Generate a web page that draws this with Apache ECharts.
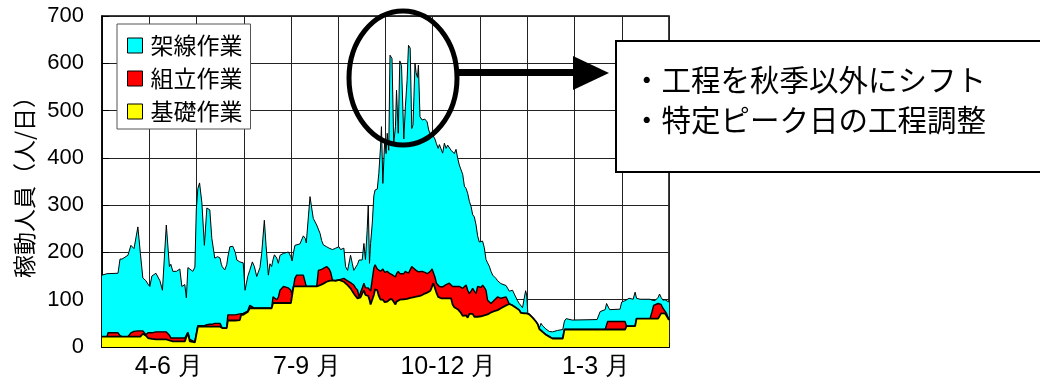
<!DOCTYPE html>
<html>
<head>
<meta charset="utf-8">
<script src="https://cdn.jsdelivr.net/npm/echarts@6/dist/echarts.min.js"></script>
<style>
html,body{margin:0;padding:0;background:#fff;}
#chart{width:1040px;height:385px;}
</style>
</head>
<body>
<div id="chart"></div>
<script>
// x: day of fiscal year (0 = 1 April, 365 = 31 March)
const days = [
  0,3.2,3.9,10.3,11.6,12.9,14.8,16.7,18.6,20.6,
  21.8,23.1,24.7,26.3,28.3,29.6,30.8,32.1,34.7,37.3,
  38.9,41.4,43.4,44.3,45.6,47.9,50.1,51.4,53.3,54.3,
  55.3,56.5,58.5,59.8,60.7,61.7,62.8,64.3,65.9,67.5,
  69.4,70.7,72.6,74.5,76.0,76.8,77.4,79.0,80.3,81.0,
  82.3,84.2,85.8,86.8,88.7,89.6,90.9,92.1,93.8,95.1,
  96.8,98.1,99.6,101.7,102.8,104.5,105.6,107.1,108.1,109.2,
  110.1,111.0,112.5,113.5,114.6,116.8,117.8,120.0,121.6,122.4,
  123.3,124.2,125.3,127.4,129.6,130.8,131.5,132.4,133.9,136.0,
  138.2,139.3,140.4,141.4,142.5,144.6,146.2,147.2,148.4,150.4,
  152.5,153.6,155.7,156.8,158.1,158.9,160.0,161.1,162.1,163.2,
  164.5,165.5,166.4,167.5,168.6,169.6,170.7,171.4,172.2,172.9,
  174.0,175.0,175.8,177.2,178.2,179.3,179.9,180.8,181.4,182.0,
  182.9,183.6,184.6,185.4,186.7,187.8,188.9,189.6,190.7,191.7,
  192.8,194.3,195.3,196.4,197.3,198.4,199.4,200.2,200.8,201.5,
  202.2,203.1,203.7,204.7,206.1,207.8,209.3,210.3,211.4,212.5,
  213.3,214.3,215.3,216.4,217.2,218.3,219.3,220.4,221.5,222.5,
  223.6,224.7,225.7,226.8,227.9,229.0,230.0,231.1,232.2,233.3,
  234.4,235.4,236.5,237.6,238.6,239.7,240.8,241.8,242.9,244.0,
  245.0,246.1,247.2,248.2,249.3,250.4,251.5,252.5,253.6,254.7,
  255.8,256.8,257.9,260.1,261.1,262.2,263.3,264.3,265.4,266.5,
  267.5,268.6,269.7,270.7,271.8,272.7,273.4,274.1,275.0,277.2,
  279.3,280.5,281.5,282.6,283.6,285.8,287.9,290.0,293.2,296.6,
  297.7,298.8,302.7,318.7,320.7,323.9,324.8,325.5,326.8,333.5,
  334.5,336.7,337.7,339.3,341.9,343.2,344.1,346.4,352.8,354.1,
  355.1,356.0,358.0,358.9,359.9,361.1,362.4,363.4,365.0
];

// 基礎作業 (yellow, bottom layer)
const kiso = [
  22,22,22,22,22,22,22,22,22,22,
  22,22,22,28,24,19,19,17,16,16,
  16,16,14,12,12,12,12,12,12,12,
  30,12,11,10,10,43,43,43,43,43,
  43,43,43,43,43,43,40,40,40,56,
  56,56,56,56,57,68,68,70,74,82,
  82,82,82,82,82,82,82,82,82,82,
  93,93,93,93,93,93,93,93,93,93,
  128,128,128,128,128,128,128,128,128,128,
  128,128,131,132,134,138,140,141,141,140,
  142,142,138,136,131,128,124,124,113,108,
  103,99,105,113,120,110,113,108,100,90,
  93,110,122,120,108,100,100,100,99,95,
  92,96,100,101,101,100,90,96,100,100,
  101,101,101,102,103,104,104,105,105,106,
  106,107,107,108,110,113,115,117,119,120,
  135,125,115,106,103,103,103,103,103,103,
  103,103,90,84,82,80,78,72,66,66,
  67,62,70,70,70,64,67,64,64,65,
  66,67,68,69,71,73,75,76,77,78,
  80,82,85,88,89,91,91,88,86,83,
  82,78,72,72,71,71,71,70,69,62,
  54,48,38,34,32,26,22,18,18,18,
  37,37,37,37,37,37,37,37,37,37,
  37,37,44,44,44,44,60,60,60,60,
  60,60,60,62,71,71,71,66,57
];

// 組立作業 (red, middle layer)
const kumitate = [
  0,0,8,8,2,0,0,0,8,11,
  12,12,12,6,2,11,11,13,16,16,
  16,16,11,7,7,7,7,7,7,8,
  1,4,2,2,2,2,2,2,2,4,
  5,5,7,7,7,5,0,0,0,12,
  12,12,12,12,13,3,3,2,2,6,
  3,0,0,0,0,0,0,0,0,0,
  13,11,7,12,27,35,38,32,27,17,
  0,17,24,24,24,22,0,0,0,0,
  0,34,32,32,31,32,25,17,0,1,
  0,2,7,6,9,10,12,10,18,17,
  17,7,10,11,15,15,15,17,21,28,
  25,57,52,45,55,60,62,65,64,63,
  64,64,58,54,52,50,58,59,60,55,
  52,54,59,55,53,56,66,63,61,58,
  56,53,52,50,50,45,40,34,41,45,
  33,23,20,25,25,23,24,27,29,32,
  32,30,38,44,46,48,50,54,58,62,
  64,58,43,48,54,54,46,64,60,61,
  65,59,52,30,25,19,17,23,26,28,
  24,21,19,18,10,0,0,0,0,0,
  0,0,0,0,0,0,0,0,0,0,
  0,0,0,0,0,0,0,0,0,0,
  0,0,0,0,0,0,0,17,17,17,
  17,17,0,0,0,0,0,0,0,15,
  28,32,32,30,19,11,5,5,0
];

// 架線作業 (cyan, top layer)
const kasen = [
  130,133,126,126,162,164,168,172,185,175,
  178,220,164,112,114,103,98,120,124,108,
  88,226,145,156,141,141,146,109,113,84,
  137,149,147,157,278,290,302,260,170,247,
  242,182,138,141,138,127,130,123,134,122,
  144,145,132,116,110,111,107,48,73,74,
  95,88,67,86,116,186,133,70,94,88,
  79,91,88,72,74,70,66,76,71,72,
  72,70,63,66,83,80,92,90,190,144,
  130,98,77,61,51,42,44,49,65,68,
  70,62,64,28,22,27,58,43,31,35,
  55,78,72,60,84,60,119,175,56,101,
  144,153,158,169,204,263,304,181,185,280,
  253,292,258,462,457,280,318,388,292,450,
  442,285,348,407,482,472,292,302,363,436,
  418,410,437,329,320,324,321,308,290,283,
  278,292,295,289,300,301,283,301,288,292,
  296,283,292,281,290,271,257,255,241,212,
  204,205,195,179,156,157,145,107,98,99,
  93,84,65,79,75,68,60,49,42,34,
  34,31,28,24,27,27,26,32,26,25,
  16,14,18,11,9,48,39,3,1,0,
  0,2,2,16,13,12,11,14,17,19,
  18,23,20,21,38,42,55,41,25,26,
  41,44,56,59,57,72,43,41,41,24,
  9,6,13,20,15,17,24,28,38
];

const seriesNames = ['基礎作業', '組立作業', '架線作業'];
const legendOrder = ['架線作業', '組立作業', '基礎作業'];
const yTicks = [0, 100, 200, 300, 400, 500, 600, 700];
const quarterPos = [43, 132, 223, 318];
const quarterLabels = ['4-6 月', '7-9 月', '10-12 月', '1-3 月'];
const monthBounds = [0,1,2,3,4,5,6,7,8,9,10,11,12].map(i => i * 365 / 12);
const noteLines = ['・工程を秋季以外にシフト', '・特定ピーク日の工程調整'];

const fills = ['#FFFF00', '#FF0000', '#00FFFF'];
const lineW = [1.8, 1.4, 1];
const CJK = '"Noto Sans CJK JP", sans-serif';
const NUM = '"Liberation Sans", Arial, sans-serif';

// stacked layers: each layer drawn from 0 up to its cumulative top
const layers = [kiso, kumitate, kasen];
const cumul = [];
layers.forEach((arr, k) => {
  cumul.push(arr.map((v, i) => v + (k > 0 ? cumul[k - 1][i] : 0)));
});

const chart = echarts.init(document.getElementById('chart'), null, {renderer: 'canvas'});
const quarterMap = {};
quarterPos.forEach((p, i) => quarterMap[p] = quarterLabels[i]);

const option = {
  animation: false,
  backgroundColor: '#fff',
  grid: {left: 102, right: 371, top: 16, bottom: 38, show: true, borderColor: '#000', borderWidth: 1.5, backgroundColor: 'transparent'},
  legend: {
    data: legendOrder.map((n) => ({name: n, itemStyle: {color: fills[seriesNames.indexOf(n)], borderColor: '#000', borderWidth: 1}})),
    orient: 'vertical', left: 117, top: 24,
    icon: 'rect', itemWidth: 15, itemHeight: 15, itemGap: 10,
    padding: [10, 8, 6, 10],
    backgroundColor: '#fff', borderColor: '#555', borderWidth: 1,
    textStyle: {fontFamily: CJK, fontSize: 23, color: '#000', lineHeight: 23, padding: [0, 0, 0, 3]},
    selectedMode: false
  },
  xAxis: {
    type: 'value', min: 0, max: 365,
    axisLine: {show: true, onZero: false, lineStyle: {color: '#000', width: 2}},
    axisTick: {show: true, inside: true, length: 4, customValues: monthBounds, lineStyle: {color: '#000'}},
    splitLine: {show: true, lineStyle: {color: '#222', width: 1}},
    axisLabel: {customValues: quarterPos, formatter: (v) => quarterMap[v] || '', fontFamily: NUM, fontSize: 25, color: '#000', margin: 8}
  },
  yAxis: {
    type: 'value', min: 0, max: 700, interval: 100,
    name: '稼動人員（人/日）', nameLocation: 'middle', nameGap: 66,
    nameTextStyle: {fontFamily: CJK, fontSize: 23, color: '#000'},
    axisLine: {show: true, lineStyle: {color: '#000', width: 1.5}},
    axisTick: {show: true, inside: true, length: 7, lineStyle: {color: '#000'}},
    splitLine: {show: true, lineStyle: {color: '#222', width: 1}},
    axisLabel: {fontFamily: NUM, fontSize: 22, color: '#000', margin: 18, formatter: (v) => yTicks.indexOf(v) >= 0 ? String(v) : ''}
  },
  series: seriesNames.map((n, k) => ({
    name: n, type: 'line',
    data: days.map((d, i) => [d, cumul[k][i]]),
    showSymbol: false, symbol: 'none',
    itemStyle: {color: fills[k]},
    lineStyle: {color: '#000', width: lineW[k]},
    areaStyle: {color: fills[k], opacity: 1, origin: 'start'},
    z: 10 - k
  })),
  graphic: [
    {type: 'ellipse', shape: {cx: 403, cy: 78, rx: 54, ry: 67}, style: {fill: 'none', stroke: '#000', lineWidth: 5}, z: 100},
    {type: 'line', shape: {x1: 458, y1: 72.5, x2: 576, y2: 72.5}, style: {stroke: '#000', lineWidth: 7}, z: 100},
    {type: 'polygon', shape: {points: [[573, 56], [609, 73], [573, 90]]}, style: {fill: '#000'}, z: 100},
    {type: 'rect', shape: {x: 616, y: 41, width: 440, height: 131}, style: {fill: '#fff', stroke: '#000', lineWidth: 2}, z: 100},
    {type: 'text', x: 632, y: 80, style: {text: noteLines[0], font: '29.5px "Noto Sans CJK JP"', fill: '#000', verticalAlign: 'middle', align: 'left'}, z: 101},
    {type: 'text', x: 632, y: 120, style: {text: noteLines[1], font: '29.5px "Noto Sans CJK JP"', fill: '#000', verticalAlign: 'middle', align: 'left'}, z: 101}
  ]
};
chart.setOption(option);
</script>
</body>
</html>
